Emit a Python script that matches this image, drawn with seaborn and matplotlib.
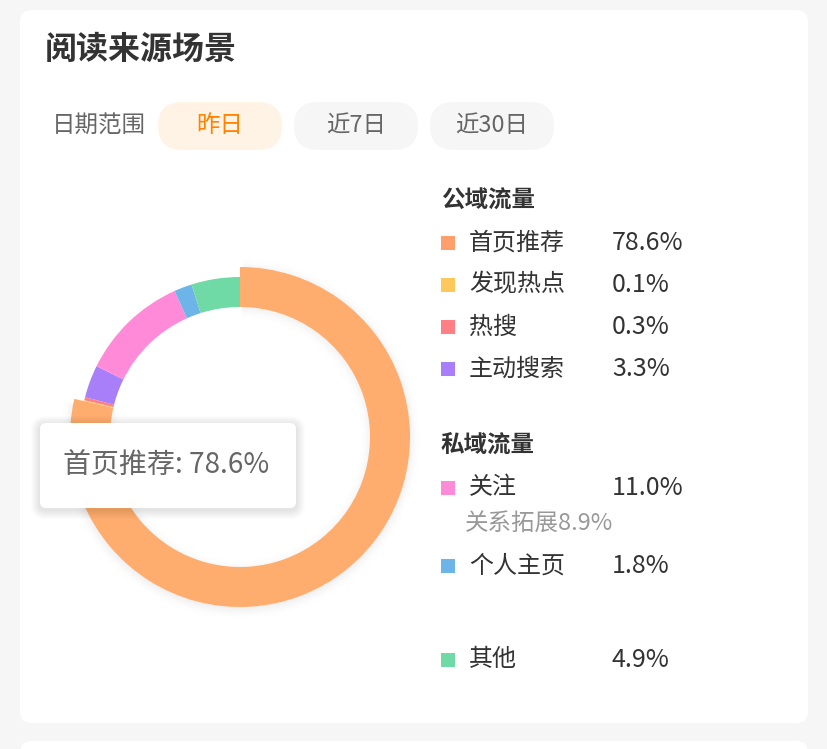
import numpy as np
import pandas as pd
import seaborn as sns
import matplotlib.pyplot as plt
from matplotlib.patches import FancyBboxPatch, Arc

## Data
labels = ['首页推荐', '发现热点', '热搜', '主动搜索', '关注', '个人主页', '其他']
shares = [78.6, 0.1, 0.3, 3.3, 11.0, 1.8, 4.9]
colors = ['#FFAD6F', '#FFC85A', '#FF7F84', '#A97FF9', '#FF8BD8', '#6DB4E8', '#6FDAA6']
legend_colors = ['#FFA06C', '#FFC85A', '#FF7F84', '#A97FF9', '#FF8BD8', '#6DB4E8', '#6FDAA6']
groups = ['公域流量', '私域流量']
sub_note = '关系拓展8.9%'
date_tabs = ['昨日', '近7日', '近30日']
title = '阅读来源场景'

sns.set_theme(style='white')
plt.rcParams['font.family'] = ['Noto Sans CJK SC', 'DejaVu Sans']

W, H = 828, 749
PT = 72 / 100  # px -> pt at dpi 100

fig = plt.figure(figsize=(W / 100, H / 100), dpi=100)
fig.patch.set_facecolor('#F6F6F6')

bg = fig.add_axes([0, 0, 1, 1])
bg.set_xlim(0, W)
bg.set_ylim(H, 0)
bg.axis('off')

# cards
bg.add_patch(FancyBboxPatch((20, 10), 788, 713, boxstyle='round,pad=0,rounding_size=12',
                            fc='white', ec='none'))
bg.add_patch(FancyBboxPatch((20, 741), 788, 60, boxstyle='round,pad=0,rounding_size=12',
                            fc='white', ec='none'))

bg.text(45, 50, title, fontsize=32 * PT, color='#333333', fontweight='semibold', va='center')
bg.text(52, 126, '日期范围', fontsize=23.5 * PT, color='#666666', va='center')

tab_x = [158, 294, 430]
for i, (x, t) in enumerate(zip(tab_x, date_tabs)):
    fc = '#FFF3E6' if i == 0 else '#F6F6F6'
    tc = '#FF8200' if i == 0 else '#666666'
    bg.add_patch(FancyBboxPatch((x, 102), 124, 48, boxstyle='round,pad=0,rounding_size=24',
                                fc=fc, ec='none'))
    bg.text(x + 62, 126, t, fontsize=23.5 * PT, color=tc, ha='center', va='center')

# legend
rows_y = [243, 285, 327, 369, 488, 566, 660]
bg.text(441, 201, groups[0], fontsize=23.5 * PT, color='#333333', fontweight='bold', va='center')
bg.text(441, 445, groups[1], fontsize=23.5 * PT, color='#333333', fontweight='bold', va='center')
for lab, val, c, y in zip(labels, shares, legend_colors, rows_y):
    bg.add_patch(plt.Rectangle((441, y - 7), 14, 14, fc=c, ec='none'))
    bg.text(469, y, lab, fontsize=24 * PT, color='#333333', va='center')
    bg.text(612, y, f'{val:.1f}%', fontsize=25 * PT, color='#333333', va='center')
bg.text(465, 523, sub_note, fontsize=23.5 * PT, color='#999999', va='center')

# donut
cx, cy, R = 240, 437, 180
pax = fig.add_axes([(cx - R) / W, (H - cy - R) / H, 2 * R / W, 2 * R / H])

wedges, _ = pax.pie(shares, colors=colors, radius=160, startangle=90, counterclock=False,
                    wedgeprops=dict(width=30, edgecolor='none', linewidth=0))
wedges[0].set_radius(170)
wedges[0].set_width(40)
for w in wedges:
    w.set_zorder(2)

# soft shadow following the highlighted slice
t1, t2 = wedges[0].theta1, wedges[0].theta2
for d in np.arange(0, 14, 1.0):
    a = 0.045 * (1 - d / 14) ** 2
    for r, k in ((168 + d, 1.0), (132 - d, 0.8)):
        pax.add_patch(Arc((0, -2), 2 * r, 2 * r, theta1=t1 + 1, theta2=t2 - 1,
                          color='black', lw=1.5 * PT, alpha=a * k, zorder=0))
pax.set_xlim(-R, R)
pax.set_ylim(-R, R)
pax.set_aspect('equal')
pax.axis('off')

# tooltip
top = fig.add_axes([0, 0, 1, 1], zorder=5)
top.set_xlim(0, W)
top.set_ylim(H, 0)
top.axis('off')
top.patch.set_alpha(0)
for i in range(1, 10):
    top.add_patch(FancyBboxPatch((40 - i, 425 - i), 256 + 2 * i, 85 + 2 * i,
                                 boxstyle='round,pad=0,rounding_size=%d' % (6 + i),
                                 fc='black', ec='none', alpha=0.012))
top.add_patch(FancyBboxPatch((40, 423), 256, 85, boxstyle='round,pad=0,rounding_size=6',
                             fc='white', ec='none'))
top.text(63, 466, f'{labels[0]}: {shares[0]:.1f}%', fontsize=28 * PT, color='#666666',
         va='center')

fig.savefig('out.png', dpi=100, facecolor=fig.get_facecolor())
